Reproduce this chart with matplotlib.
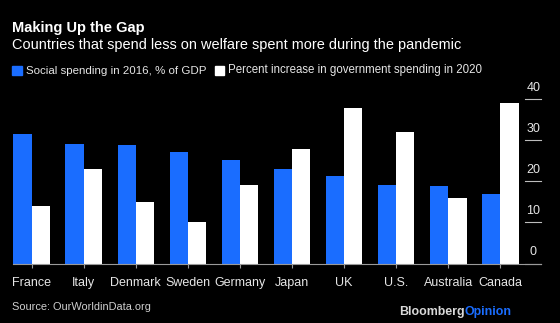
import matplotlib
matplotlib.use("Agg")
import matplotlib.pyplot as plt
import matplotlib.transforms as mtransforms
import numpy as np

countries = ["France", "Italy", "Denmark", "Sweden", "Germany", "Japan", "UK", "U.S.", "Australia", "Canada"]
social_2016 = [31.6, 29.1, 28.8, 27.2, 25.3, 23.0, 21.2, 19.2, 19.0, 17.0]
increase_2020 = [14.0, 23.0, 15.0, 10.1, 19.1, 27.8, 37.9, 32.0, 16.0, 39.1]
y_ticks = [0, 10, 20, 30, 40]
series_names = ["Social spending in 2016, % of GDP", "Percent increase in government spending in 2020"]

BLUE = "#1a6dff"
BG = "black"
FONT = "Liberation Sans"

fig = plt.figure(figsize=(5.6, 3.23), dpi=100, facecolor=BG)
ax = fig.add_axes([0.0238, 0.1842, 0.9423, 0.5084])
ax.set_facecolor(BG)

x = np.arange(len(countries))
w = 0.35
ax.bar(x - w / 2, social_2016, width=w, color=BLUE, zorder=2)
ax.bar(x + w / 2, increase_2020, width=w, color="white", zorder=2)

ax.set_xlim(-0.35, 9.78)
ax.set_ylim(0, 40)

for s in ["top", "right", "left"]:
    ax.spines[s].set_visible(False)
ax.spines["bottom"].set_color("#9a9a9a")
ax.spines["bottom"].set_linewidth(0.8)
ax.spines["bottom"].set_zorder(3)

ax.set_xticks(x)
ax.set_xticklabels(countries, fontfamily=FONT, fontsize=9, color="#e6e6e6")
ax.tick_params(axis="x", length=3, width=0.8, color="#9a9a9a", pad=7)

ax.set_yticks([])
trans = mtransforms.blended_transform_factory(ax.transAxes, ax.transData)
for t in y_ticks:
    ax.plot([0.9705, 1.0], [t, t], transform=trans, color="#bdbdbd", lw=0.8, clip_on=False, zorder=3)
    ax.text(0.9855, t + 1.4, str(t), transform=trans, ha="center", va="bottom",
            fontfamily=FONT, fontsize=9, color="#e6e6e6")

fig.text(0.021, 0.9, "Making Up the Gap", fontfamily=FONT, fontsize=10.5, fontweight="bold",
         color="white", va="baseline")
fig.text(0.021, 0.848, "Countries that spend less on welfare spent more during the pandemic",
         fontfamily=FONT, fontsize=10.45, color="white", va="baseline")

# legend
ly = 0.768
sq_w, sq_h = 0.0165, 0.028
fig.patches.append(plt.Rectangle((0.022, ly), sq_w, sq_h, transform=fig.transFigure, color=BLUE))
fig.text(0.0465, ly - 0.002, series_names[0], fontfamily=FONT, fontsize=8.25, color="#e6e6e6", va="bottom")
fig.patches.append(plt.Rectangle((0.384, ly), sq_w, sq_h, transform=fig.transFigure, color="white"))
fig.text(0.407, ly - 0.002, series_names[1], fontfamily=FONT, fontsize=8.3, color="#e6e6e6", va="bottom")

fig.text(0.021, 0.040, "Source: OurWorldinData.org", fontfamily=FONT, fontsize=7.9,
         color="#cfcfcf", va="baseline")
t1 = fig.text(0.7125, 0.026, "Bloomberg", fontfamily=FONT, fontsize=8.9, fontweight="bold",
              color="#d9d9d9", va="baseline")
fig.canvas.draw()
bb = t1.get_window_extent()
fig.text(bb.x1 / fig.bbox.width, 0.026, "Opinion", fontfamily=FONT, fontsize=8.9, fontweight="bold",
         color=BLUE, va="baseline")

fig.savefig("out.png", dpi=100, facecolor=BG)
